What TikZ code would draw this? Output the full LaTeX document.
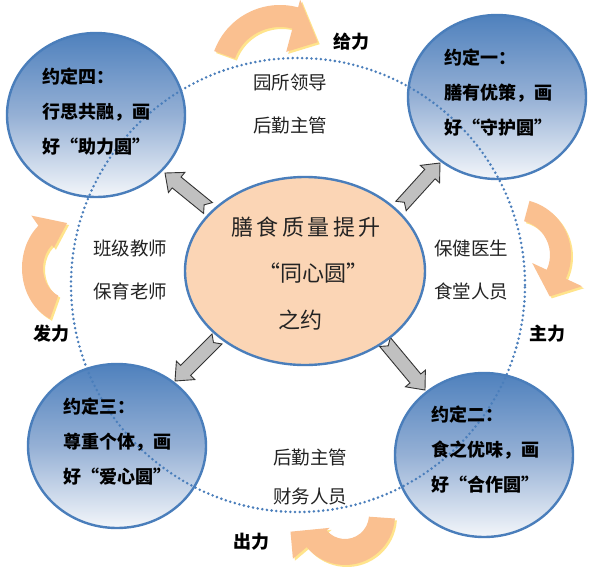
\documentclass[tikz,border=0pt]{standalone}
\usepackage{fontspec}
\setmainfont{Noto Sans CJK SC}
\usetikzlibrary{calc,shapes.geometric}
\definecolor{cblue}{RGB}{74,126,187}
\definecolor{ctop}{RGB}{79,129,189}
\definecolor{cmid}{RGB}{149,176,213}
\definecolor{cbot}{RGB}{243,246,250}
\definecolor{cpeach}{RGB}{251,213,181}
\definecolor{corange}{RGB}{250,192,144}
\definecolor{cyell}{RGB}{255,228,140}
\definecolor{cgray}{RGB}{192,192,192}
\definecolor{ctext}{RGB}{35,35,35}
\tikzset{
  yuanding/.style={ellipse, draw=cblue, line width=2.4pt, minimum width=178pt, minimum height=164pt,
    inner sep=0pt, top color=ctop, bottom color=cbot, middle color=cmid},
  centre/.style={ellipse, draw=cblue, line width=2.4pt, fill=cpeach, minimum width=240pt,
    minimum height=188pt, inner sep=0pt},
  circtext/.style={align=left, font=\fontsize{18pt}{35pt}\selectfont\bfseries, text=black, inner sep=0pt},
  bigtext/.style={font=\fontsize{22pt}{26pt}\selectfont, text=ctext, inner sep=0pt},
  lbl/.style={font=\fontsize{18pt}{20pt}\selectfont\bfseries, text=black, inner sep=0pt},
  role/.style={font=\fontsize{18.5pt}{20pt}\selectfont, text=ctext, anchor=west, inner sep=0pt},
  barrow/.style={fill=cgray, draw=black!80, line width=0.9pt, line join=miter},
  ring/.style={cblue, line width=2.8pt, dash pattern=on 0pt off 4.7pt, line cap=round}
}
% curved (circular) arrow: style, rin, rout, tail angle, base angle, head inner, head outer, tip angle, tip radius
\newcommand\carrowfill[9]{\fill[#1] (#4:#3pt) arc[start angle=#4, end angle=#5, radius=#3pt]
  -- (#5:#7pt) -- (#8:#9pt) -- (#5:#6pt) -- (#5:#2pt) arc[start angle=#5, end angle=#4, radius=#2pt] -- cycle;}
\newcommand\carrow[3]{%
  \begin{scope}[shift={(#1)}, shift={(2pt,-2pt)}, yscale=#2]\carrowfill{cyell}#3\end{scope}%
  \begin{scope}[shift={(#1)}, yscale=#2]\carrowfill{corange}#3\end{scope}}
% notched block arrow from tail coordinate #1 to tip coordinate #2
\newcommand\blockarrow[2]{%
  \coordinate (#1-h) at ($(#2)!15pt!(#1)$);
  \draw[barrow] ($(#1)!7pt!90:(#2)$) -- ($(#1-h)!7pt!90:(#2)$) -- ($(#1-h)!13pt!90:(#2)$) -- (#2)
    -- ($(#1-h)!13pt!-90:(#2)$) -- ($(#1-h)!7pt!-90:(#2)$) -- ($(#1)!7pt!-90:(#2)$)
    -- ($(#1)!5pt!(#2)$) -- cycle;}
\begin{document}
\begin{tikzpicture}[x=1pt,y=1pt]
\fill[white] (0,0) rectangle (594,-574);
\useasboundingbox (0,0) rectangle (594,-574);

% curved orange arrows
\carrow{280,-75}{1}{{48}{70}{160}{75}{24}{78}{41}{50}}
\carrow{515,-255}{1}{{35}{56}{75}{-25}{19}{74}{-50}{54}}
\carrow{345,-515}{1}{{24}{50}{-4}{-140}{20}{68}{-163}{57}}
\carrow{68,-268}{1.2}{{25}{46}{247}{130}{22}{57}{91.5}{37.5}}

% four circles
\node[yuanding] (c4) at (96,-115) {};
\node[yuanding] (c1) at (497,-97) {};
\node[yuanding] (c3) at (117,-446) {};
\node[yuanding] (c2) at (484,-455) {};

% grey block arrows
\coordinate (a4t) at (208,-208); \coordinate (a4h) at (165,-173);
\coordinate (a1t) at (401,-206); \coordinate (a1h) at (440,-163);
\coordinate (a3t) at (217,-339); \coordinate (a3h) at (175,-381);
\coordinate (a2t) at (385,-342); \coordinate (a2h) at (425,-390);
\blockarrow{a4t}{a4h}
\blockarrow{a1t}{a1h}
\blockarrow{a3t}{a3h}
\blockarrow{a2t}{a2h}

% centre ellipse
\node[centre] (m) at (305,-271) {};

% dotted ring
\draw[ring] (298,-285) circle[radius=227pt];

% centre text
\node[bigtext] (m1) at (306,-227) {膳\kern3.5pt 食\kern3.5pt 质\kern3.5pt 量\kern3.5pt 提\kern3.5pt 升};
\node[bigtext] (m2) at (313,-273) {“同心圆”};
\node[bigtext] (m3) at (300,-320) {之约};

% circle texts
\node[circtext] (t4) at (96,-112) {约定四：\\行思共融，画\\好“助力圆”};
\node[circtext] (t1) at (498,-93) {约定一：\\膳有优策，画\\好“守护圆”};
\node[circtext] (t3) at (117,-442) {约定三：\\尊重个体，画\\好“爱心圆”};
\node[circtext] (t2) at (485,-450) {约定二：\\食之优味，画\\好“合作圆”};

% role texts
\node[role] (r1) at (253,-82) {园所领导};
\node[role] (r2) at (253,-125) {后勤主管};
\node[role] (r3) at (434,-248) {保健医生};
\node[role] (r4) at (434,-291) {食堂人员};
\node[role] (r5) at (93,-248) {班级教师};
\node[role] (r6) at (93,-291) {保育老师};
\node[role] (r7) at (273,-457) {后勤主管};
\node[role] (r8) at (273,-496) {财务人员};

% force labels
\node[lbl] (l1) at (351,-42) {给力};
\node[lbl] (l2) at (547,-334) {主力};
\node[lbl] (l3) at (251,-542) {出力};
\node[lbl] (l4) at (51,-334) {发力};
\end{tikzpicture}
\end{document}
